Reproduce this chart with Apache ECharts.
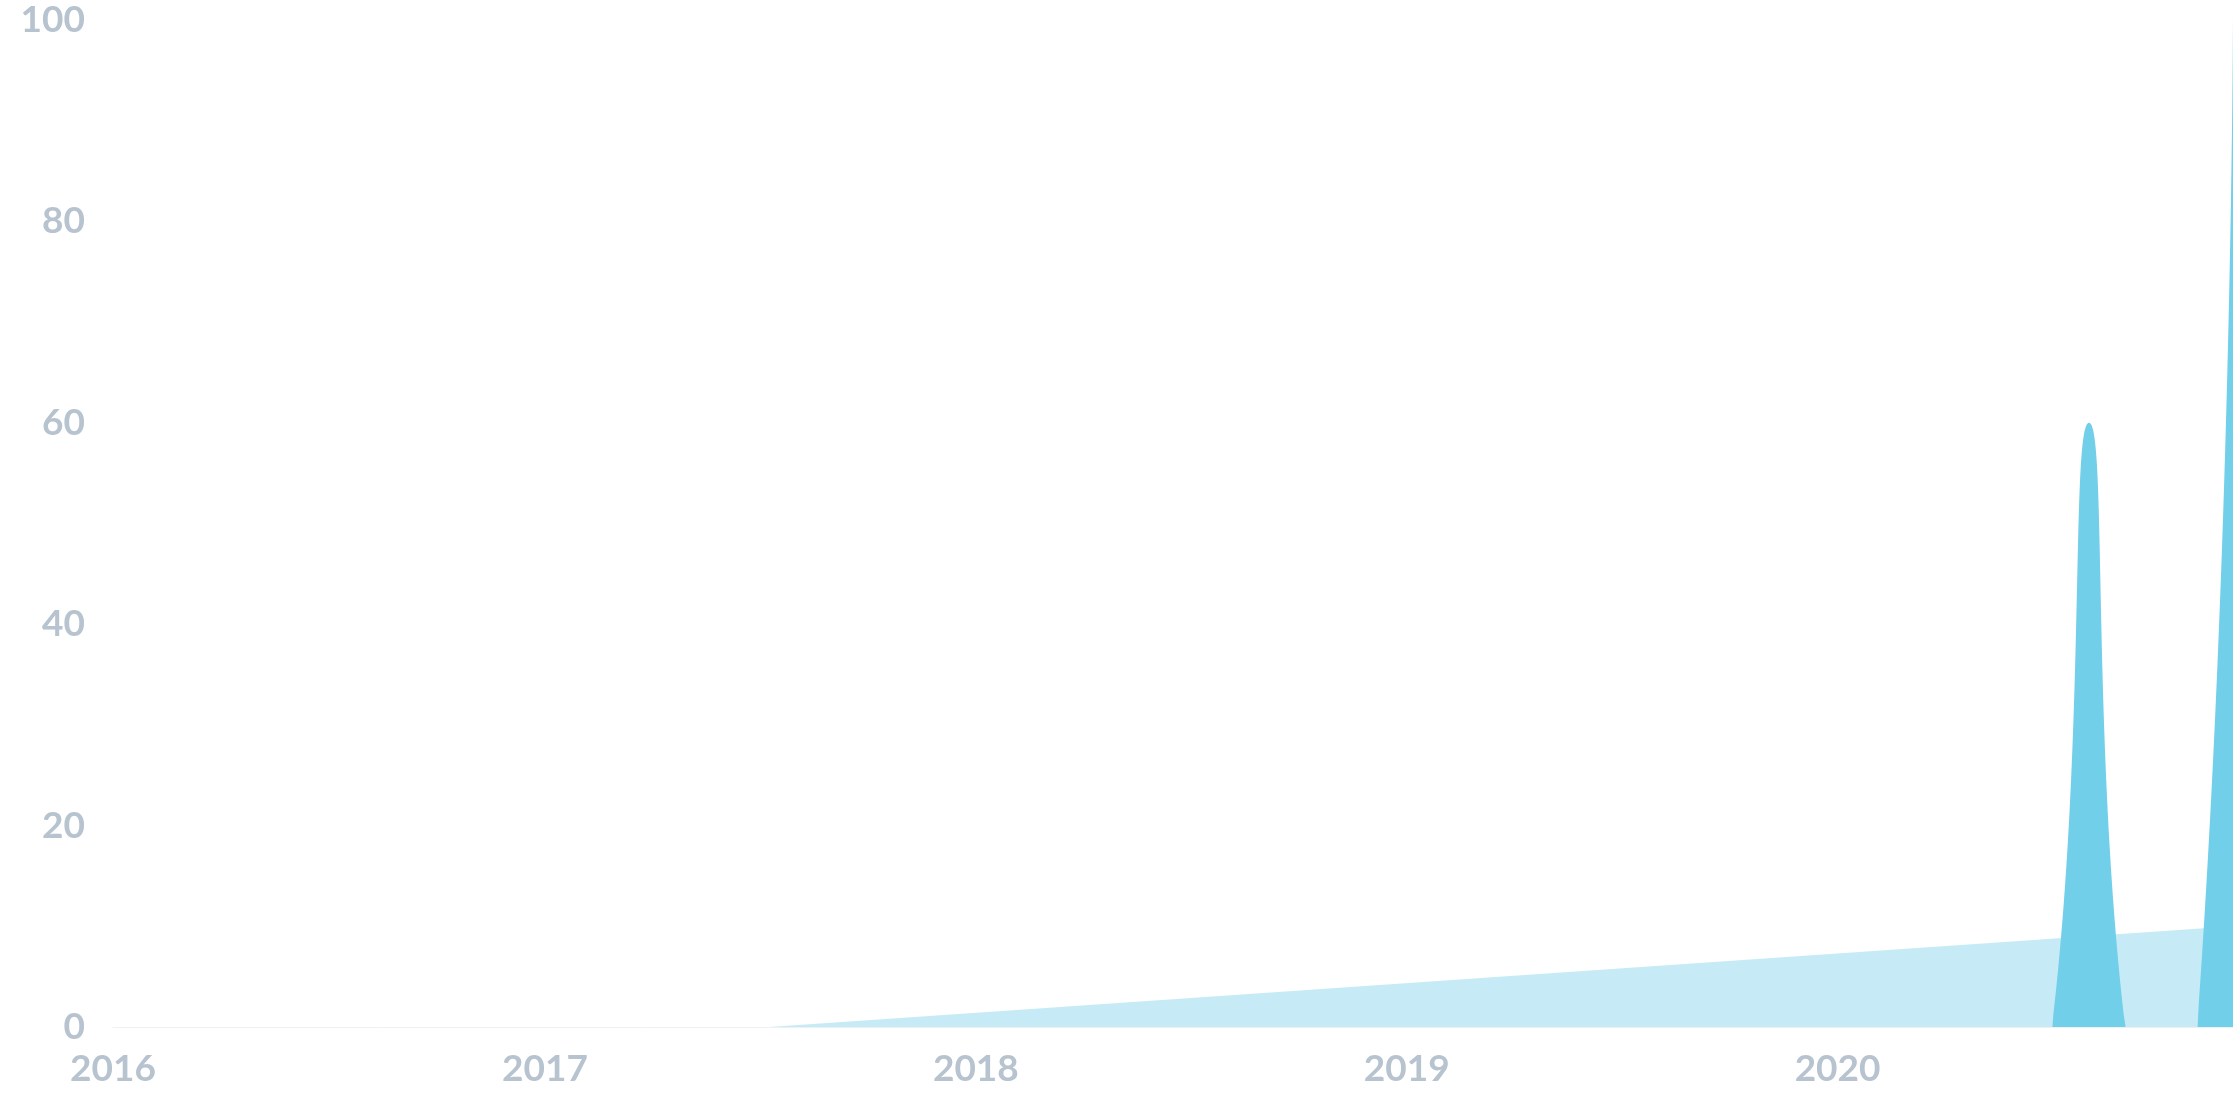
<!DOCTYPE html>
<html>
<head>
<meta charset="utf-8">
<script src="https://cdn.jsdelivr.net/npm/echarts@6/dist/echarts.min.js"></script>
<style>
html,body{margin:0;padding:0;background:#fff;}
#chart{width:2240px;height:1120px;}
</style>
</head>
<body>
<div id="chart"></div>
<script>
// Monthly dates, 2016-01 .. 2020-12
const months = [];
for (let y = 2016; y <= 2020; y++) {
  for (let m = 1; m <= 12; m++) {
    months.push(y + '-' + String(m).padStart(2, '0') + '-01');
  }
}
// Dark (spiky) series values, one per month
const spikeValues = [
  0,0,0,0,0,0,0,0,0,0,0,0,
  0,0,0,0,0,0,0,0,0,0,0,0,
  0,0,0,0,0,0,0,0,0,0,0,0,
  0,0,0,0,0,0,0,0,0,0,0,0,
  0,0,0,0,0,0,0,60,0,0,0,100
];
// Light (trend) series: sparse points
const trendDates = ['2017-07-10', '2020-12-01'];
const trendValues = [0, 10];
const yTicks = [0, 20, 40, 60, 80, 100];

function toTime(s) {
  const p = s.split('-').map(Number);
  return new Date(p[0], p[1] - 1, p[2]).getTime();
}

// Smooth area path (classic ECharts 4 style smoothing with bounding-box constraint)
function smoothAreaPath(pts, baseY, smooth) {
  let minX = Infinity, minY = Infinity, maxX = -Infinity, maxY = -Infinity;
  pts.forEach(p => {
    minX = Math.min(minX, p[0]); maxX = Math.max(maxX, p[0]);
    minY = Math.min(minY, p[1]); maxY = Math.max(maxY, p[1]);
  });
  const clamp = c => [Math.min(Math.max(c[0], minX), maxX), Math.min(Math.max(c[1], minY), maxY)];
  let d = 'M' + pts[0][0] + ' ' + pts[0][1];
  let cp0 = pts[0].slice();
  for (let i = 1; i < pts.length; i++) {
    const p = pts[i], prev = pts[i - 1], next = pts[i + 1];
    let cp1, nextCp0;
    if (!next) {
      cp1 = p.slice();
      nextCp0 = p.slice();
    } else {
      const vx = next[0] - prev[0], vy = next[1] - prev[1];
      const lp = Math.hypot(p[0] - prev[0], p[1] - prev[1]);
      const ln = Math.hypot(next[0] - p[0], next[1] - p[1]);
      const r = (ln + lp) === 0 ? 0.5 : ln / (ln + lp);
      cp1 = [p[0] - vx * smooth * (1 - r), p[1] - vy * smooth * (1 - r)];
      nextCp0 = [p[0] + vx * smooth * r, p[1] + vy * smooth * r];
    }
    const a = clamp(cp0), b = clamp(cp1);
    d += ' C' + a[0] + ' ' + a[1] + ' ' + b[0] + ' ' + b[1] + ' ' + p[0] + ' ' + p[1];
    cp0 = nextCp0;
  }
  d += ' L' + pts[pts.length - 1][0] + ' ' + baseY + ' L' + pts[0][0] + ' ' + baseY + ' Z';
  return d;
}

const chart = echarts.init(document.getElementById('chart'));
const labelStyle = { color: '#b7c3cf', fontSize: 37, fontFamily: 'Lato', fontWeight: 'bold' };
chart.setOption({
  animation: false,
  grid: { left: 113, right: 7, top: 20, bottom: 93 },
  xAxis: {
    type: 'time',
    min: toTime(months[0]),
    max: toTime(months[months.length - 1]),
    axisLine: { show: true, lineStyle: { color: '#eef1f4', width: 1 } },
    axisTick: { show: false },
    splitLine: { show: false },
    axisLabel: Object.assign({}, labelStyle, {
      margin: 24,
      formatter: function (v) {
        const d = new Date(v);
        return (d.getMonth() === 0 && d.getDate() === 1) ? String(d.getFullYear()) : '';
      }
    })
  },
  yAxis: {
    type: 'value',
    min: yTicks[0],
    max: yTicks[yTicks.length - 1],
    interval: 20,
    axisLine: { show: false },
    axisTick: { show: false },
    splitLine: { show: false },
    axisLabel: Object.assign({}, labelStyle, { margin: 28 })
  },
  series: [
    {
      type: 'line',
      data: trendDates.map((d, i) => [toTime(d), trendValues[i]]),
      symbol: 'none',
      lineStyle: { width: 0 },
      areaStyle: { color: '#c7ebf6', opacity: 1 },
      z: 1
    },
    {
      type: 'custom',
      clip: true,
      data: months.map((d, i) => [toTime(d), spikeValues[i]]),
      encode: { x: 0, y: 1 },
      renderItem: function (params, api) {
        if (params.dataIndex !== 0) return null;
        const pts = months.map((d, i) => api.coord([toTime(d), spikeValues[i]]));
        const baseY = api.coord([toTime(months[0]), 0])[1];
        return {
          type: 'path',
          shape: { pathData: smoothAreaPath(pts, baseY, 0.5) },
          style: { fill: '#72cfea', stroke: null }
        };
      },
      z: 2
    }
  ]
});
</script>
</body>
</html>
